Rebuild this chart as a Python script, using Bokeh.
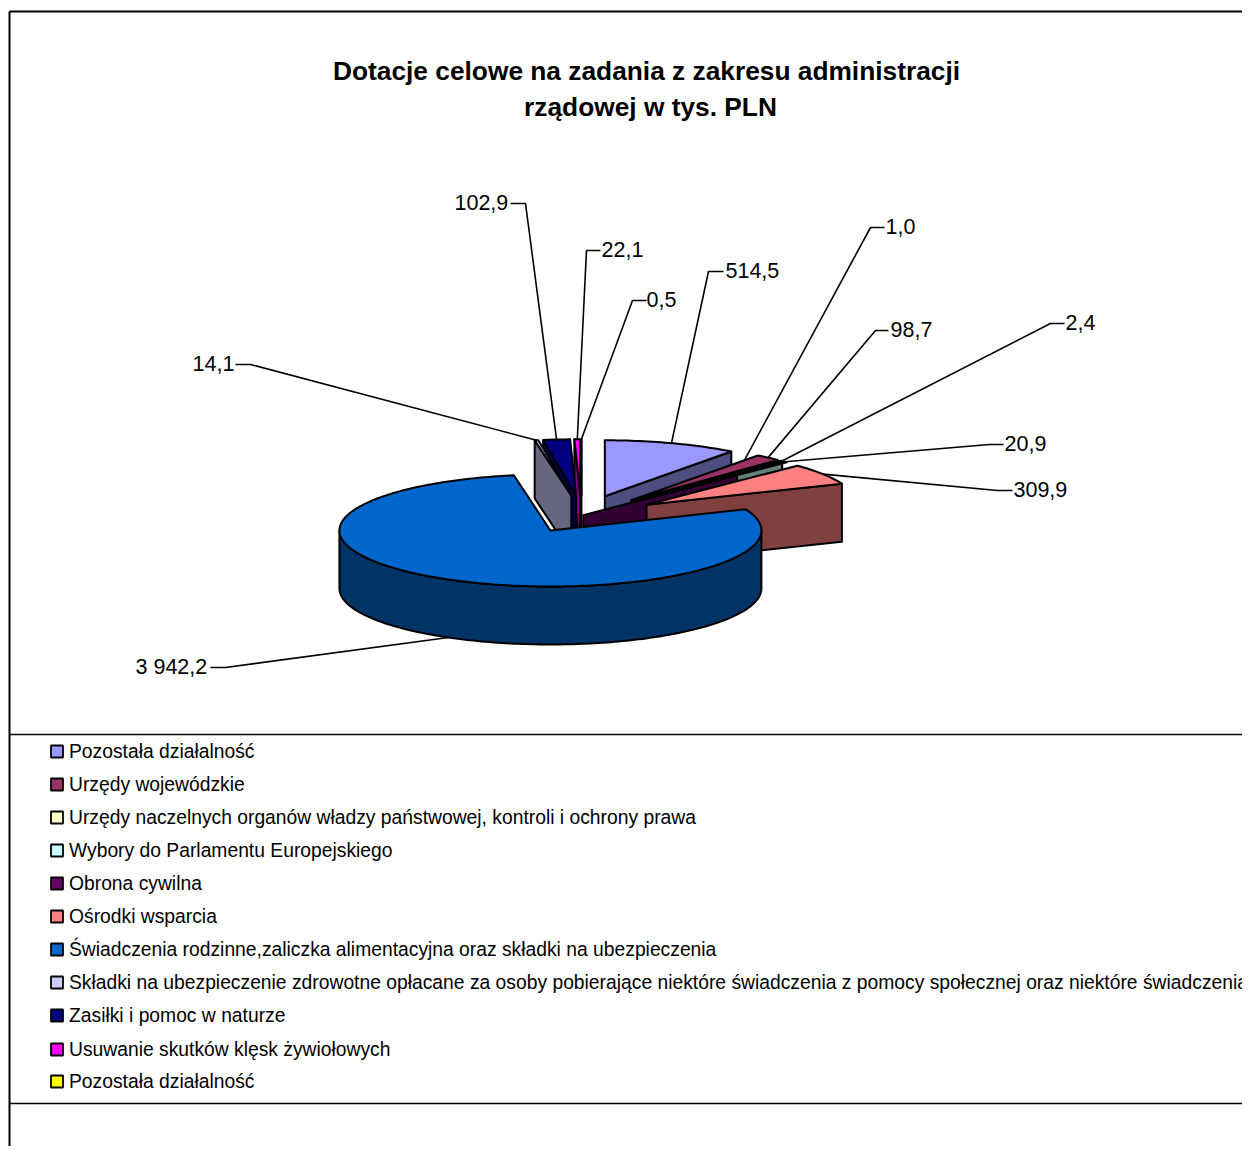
import numpy as np
from bokeh.plotting import figure
from bokeh.models import Range1d
from bokeh.core.properties import value
from bokeh.embed import file_html
from bokeh.resources import INLINE

# ---- data ----
categories = [
    "Pozostała działalność",
    "Urzędy wojewódzkie",
    "Urzędy naczelnych organów władzy państwowej, kontroli i ochrony prawa",
    "Wybory do Parlamentu Europejskiego",
    "Obrona cywilna",
    "Ośrodki wsparcia",
    "Świadczenia rodzinne,zaliczka alimentacyjna oraz składki na ubezpieczenia",
    "Składki na ubezpieczenie zdrowotne opłacane za osoby pobierające niektóre świadczenia z pomocy społecznej oraz niektóre świadczenia",
    "Zasiłki i pomoc w naturze",
    "Usuwanie skutków klęsk żywiołowych",
    "Pozostała działalność",
]
values = [514.5, 98.7, 1.0, 2.4, 20.9, 309.9, 3942.2, 14.1, 102.9, 22.1, 0.5]
labels = ["514,5", "98,7", "1,0", "2,4", "20,9", "309,9", "3 942,2", "14,1", "102,9", "22,1", "0,5"]
title_lines = ["Dotacje celowe na zadania z zakresu administracji", "rządowej w tys. PLN"]

# ---- style ----
top_colors = ["#9999FF", "#993366", "#FFFFCC", "#CCFFFF", "#660066", "#FF8080",
              "#0066CC", "#CCCCFF", "#000080", "#FF00FF", "#FFFF00"]
wall_colors = ["#4D4D80", "#4D1A33", "#808066", "#668080", "#330033", "#804040",
               "#003366", "#666680", "#000040", "#800080", "#808000"]

# ---- layout (pixels of the picture) ----
CX, CY, RX, RY, DEPTH = 579.0, 516.0, 211.0, 56.0, 58.0
explode = [0.38, 0.38, 0.38, 0.38, 0.38, 0.38, 0.285, 0.38, 0.38, 0.38, 0.38]
nudge_x = {7: 5, 8: 4, 9: 2, 10: 2}  # small sideways offsets of the rear slices
wall_span = {4: (-0.35, 0.67)}     # radial extent of the visible wall of a slice
leader_r = {2: 0.70}               # leader end as a fraction of the radius
leader_depth = {6: 1.0}            # leader ends at the lower rim
label_x = [725, 890, 885, 1065, 1004, 1013, 135, 192, 454, 601, 646]
label_y = [270, 329, 226, 322, 443, 489, 666, 363, 202, 249, 299]
elbow_x = [708, 875, 870, 1050, 989, 997, 225, 250, 525, 586, 632]
stub_x = [723, 888, 884, 1064, 1003, 1012, 210, 235, 510, 600, 646]
draw_order = [10, 9, 8, 7, 0, 1, 2, 3, 4, 5, 6]
legend_y = [751, 784, 817, 850, 883, 916, 949, 982, 1015, 1049, 1081]

FONT = value("Liberation Sans")
W, H = 1242, 1146
p = figure(width=W, height=H, output_backend="svg", toolbar_location=None,
           x_range=Range1d(0, W), y_range=Range1d(H, 0),
           min_border=0, outline_line_color=None, background_fill_color="white",
           border_fill_color="white")
p.axis.visible = False
p.grid.visible = False

# outer frame and legend separators
p.line([9, 9], [H, 11], line_color="black", line_width=2)
p.line([9, W], [11, 11], line_color="black", line_width=2)
p.line([9, W], [734, 734], line_color="black", line_width=1.6)
p.line([9, W], [1103, 1103], line_color="black", line_width=1.6)

# pie geometry computed from the values
vals = np.array(values)
edges = np.concatenate([[0], np.cumsum(vals)]) / vals.sum() * 2 * np.pi


def rim(a, r=1.0):
    return RX * r * np.sin(a), -RY * r * np.cos(a)


apex = []
for i in range(len(vals)):
    mid = (edges[i] + edges[i + 1]) / 2
    dx, dy = rim(mid, explode[i])
    apex.append((CX + dx + nudge_x.get(i, 0), CY + dy))

# leader lines, behind the slices
for i in range(len(vals)):
    mid = (edges[i] + edges[i + 1]) / 2
    dx, dy = rim(mid, leader_r.get(i, 1.0))
    tx = apex[i][0] + dx
    ty = apex[i][1] + dy + leader_depth.get(i, 0.0) * DEPTH
    p.line([stub_x[i], elbow_x[i], tx], [label_y[i] + 1, label_y[i] + 1, ty],
           line_color="black", line_width=1.6)

STROKE = dict(line_color="black", line_width=2, line_join="round")


def wall(i, a, span=(0.0, 1.0)):
    ax, ay = apex[i]
    x0, y0 = rim(a, span[0])
    x1, y1 = rim(a, span[1])
    xs = [ax + x0, ax + x1, ax + x1, ax + x0]
    ys = [ay + y0, ay + y1, ay + y1 + DEPTH, ay + y0 + DEPTH]
    p.patch(xs, ys, fill_color=wall_colors[i], **STROKE)


for i in draw_order:
    a0, a1 = edges[i], edges[i + 1]
    ax, ay = apex[i]
    n = max(int((a1 - a0) / 0.02), 2)
    arc = np.linspace(a0, a1, n)
    rx, ry = rim(arc)
    span = wall_span.get(i, (0.0, 1.0))
    # radial walls that face the viewer
    if np.sin(a0) < -1e-6:
        wall(i, a0, span)
    if np.sin(a1) > 1e-6:
        wall(i, a1, span)
    # outer rim that faces the viewer
    front = arc[np.cos(arc) < 0]
    if len(front) > 1:
        fx, fy = rim(front)
        xs = np.concatenate([ax + fx, (ax + fx)[::-1]])
        ys = np.concatenate([ay + fy, (ay + fy + DEPTH)[::-1]])
        p.patch(xs, ys, fill_color=wall_colors[i], **STROKE)
    # top face
    p.patch(np.concatenate([[ax], ax + rx]), np.concatenate([[ay], ay + ry]),
            fill_color=top_colors[i], **STROKE)

# data labels
p.text(label_x, label_y, text=labels, text_font=FONT, text_font_size="21.5px",
       text_color="black", text_baseline="middle", text_align="left")

# title
p.text([646, 650], [70, 106], text=title_lines, text_font=FONT, text_font_size="26.3px",
       text_font_style="bold", text_color="black", text_align="center", text_baseline="middle")

# legend
p.scatter([56.5] * len(categories), legend_y, marker="square", size=12,
          fill_color=top_colors, line_color="black", line_width=1.8)
p.text([68.5] * len(categories), legend_y, text=categories, text_font=FONT,
       text_font_size="19.3px", text_color="black", text_baseline="middle", text_align="left")

open("out.html", "w").write(file_html(p, INLINE))
